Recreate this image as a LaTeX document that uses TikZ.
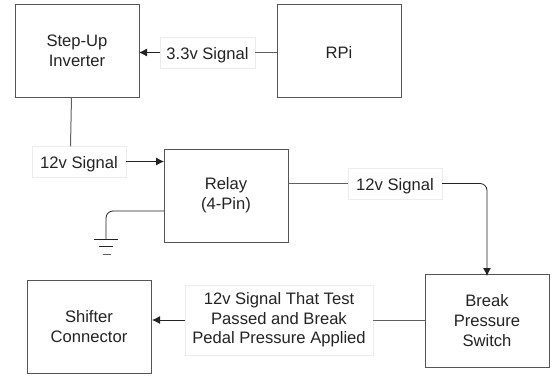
\documentclass[tikz,border=0pt]{standalone}
\usepackage{fontspec}
\setmainfont{Liberation Sans}
\usetikzlibrary{arrows.meta,positioning,calc}
\definecolor{boxgray}{RGB}{85,85,85}
\definecolor{wiregray}{RGB}{95,95,95}
\definecolor{labeledge}{RGB}{236,236,236}
\definecolor{inkblack}{RGB}{35,35,35}
\begin{document}
\begin{tikzpicture}[
  x=1pt,y=-1pt,
  box/.style={rectangle,draw=boxgray,line width=1pt,align=center,outer sep=0pt,
              minimum height=93pt,minimum width=124pt,text=inkblack,
              font=\fontsize{16.6}{19.6}\selectfont},
  tag/.style={rectangle,draw=labeledge,line width=0.5pt,align=center,outer sep=0pt,
              inner sep=0pt,minimum height=30.5pt,text=inkblack,
              font=\fontsize{16.6}{19.6}\selectfont},
  onetag/.style={tag,text height=13.5pt,text depth=0pt},
  wire/.style={draw=wiregray,line width=1pt},
  earth/.style={draw=inkblack,line width=0.8pt},
  arrow/.style={-{Latex[length=8pt,width=8pt]},draw=inkblack,line width=0.8pt}
]
\useasboundingbox (0,0) rectangle (554,375);
\node[box] (inverter) at (77,50.5) {Step-Up\\Inverter};
\node[box,text height=16pt,text depth=0pt,right=138pt of inverter] (rpi) {RPi};
\node[box] (relay) at (226,195.5) {Relay\\(4-Pin)};
\node[box] (switch) at (487,320.5) {Break\\Pressure\\Switch};
\node[box] (shifter) at (89,326.5) {Shifter\\Connector};
\node[onetag,minimum width=95pt] (sigrpi) at (207.5,52.5) {3.3v Signal};
\node[onetag,minimum width=94pt] (sigrelay) at (79,161.5) {12v Signal};
\node[onetag,minimum width=94pt] (sigswitch) at (395,183.5) {12v Signal};
\node[tag,minimum width=188pt,minimum height=70pt] (sigshifter) at (279,320) {12v Signal That Test\\Passed and Break\\Pedal Pressure Applied};
\coordinate (bend) at (106,211);
\coordinate (gnd) at (106,239);
\draw[wire] (rpi.west |- sigrpi.east) -- (sigrpi.east);
\draw[arrow] (sigrpi.west) -- (sigrpi.west -| inverter.east);
\draw[wire] ([xshift=-5.5pt]inverter.south) -- ([xshift=-8.5pt]sigrelay.north);
\draw[arrow] (sigrelay.east) -- (sigrelay.east -| relay.west);
\draw[wire] (relay.east |- sigswitch.west) -- (sigswitch.west);
\draw[arrow,rounded corners=7pt] (sigswitch.east) -- (switch.north |- sigswitch.east) -- ([yshift=-2pt]switch.north);
\draw[wire] (switch.west |- sigshifter.east) -- (sigshifter.east);
\draw[arrow] (sigshifter.west) -- ([xshift=1pt]sigshifter.west -| shifter.east);
\draw[earth,rounded corners=7pt] (relay.west |- bend) -- (bend) -- (gnd);
\draw[earth] ([xshift=-12pt]gnd) -- ([xshift=12pt]gnd);
\draw[earth] ($(gnd)+(-7,7)$) -- ($(gnd)+(7,7)$);
\draw[earth,draw=wiregray] ($(gnd)+(-3.5,15)$) -- ($(gnd)+(4.5,15)$);
\end{tikzpicture}
\end{document}
